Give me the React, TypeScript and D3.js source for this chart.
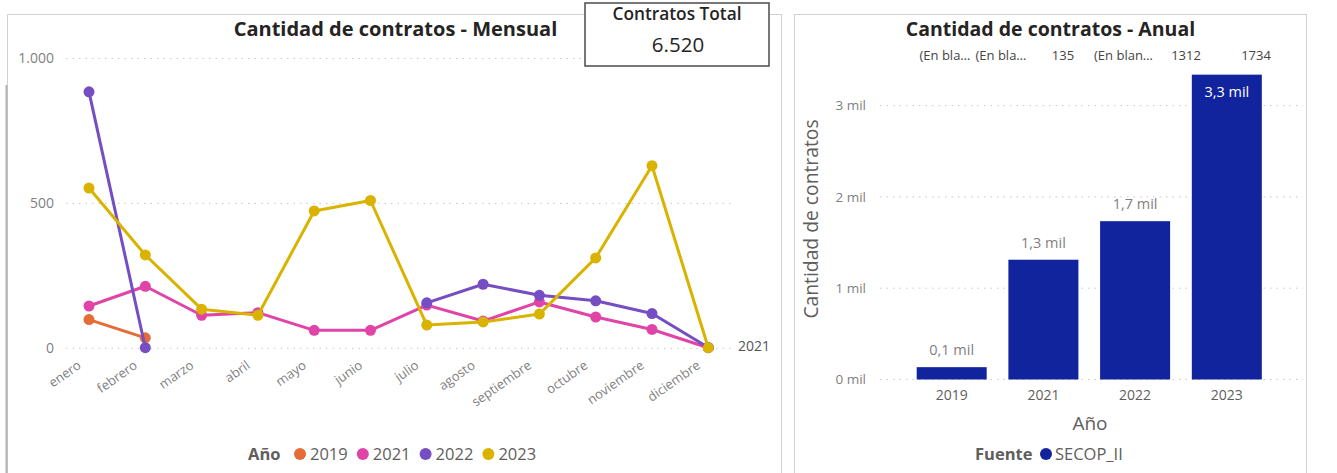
import React from "react";
import * as d3 from "d3";

const months = ["enero", "febrero", "marzo", "abril", "mayo", "junio", "julio", "agosto", "septiembre", "octubre", "noviembre", "diciembre"];
const years = ["2019", "2021", "2022", "2023"];
const s2019: (number | null)[] = [99, 36, null, null, null, null, null, null, null, null, null, null];
const s2021: (number | null)[] = [146, 214, 114, 123, 62, 62, 149, 94, 160, 108, 65, 2];
const s2022: (number | null)[] = [885, 2, null, null, null, null, 157, 221, 183, 164, 120, 3];
const s2023: (number | null)[] = [553, 322, 135, 114, 474, 510, 80, 91, 118, 312, 630, 2];
const lineTicks = [0, 500, 1000];

const barYears = ["2019", "2021", "2022", "2023"];
const barValues = [135, 1312, 1734, 3339];
const barTicks = [0, 1000, 2000, 3000];
const topLabels = ["(En bla…", "(En bla…", "135", "(En blan…", "1312", "1734"];
const totalContracts = 6520;

const colors = ["#E66C37", "#E044A7", "#744EC2", "#D9B300"];
const barColor = "#12239E";
const FONT = "'Open Sans', 'Noto Sans', sans-serif";

const loc = d3.formatLocale({ decimal: ",", thousands: ".", grouping: [3], currency: ["$", ""] });
const fmtInt = loc.format(",d");

export default function App() {
  const series = [s2019, s2021, s2022, s2023];
  // Left chart scales
  const x = d3.scalePoint<string>().domain(months).range([89, 708.3]);
  const y = d3.scaleLinear().domain([0, 1000]).range([348.3, 58.5]);
  const line = d3
    .line<number | null>()
    .defined((d) => d !== null)
    .x((_, i) => x(months[i]) as number)
    .y((d) => y(d as number));

  // Right chart scales
  const xb = d3.scaleBand<string>().domain(barYears).range([880, 1298.5]).paddingInner(0.2366).paddingOuter(0.4);
  const yb = d3.scaleLinear().domain([0, 3500]).range([379.5, 379.5 - 3.5 * 91.3]);
  const fmtMil = (v: number) => (v / 1000).toFixed(1).replace(".", ",") + " mil";

  const topLabelX = [945, 1001, 1063, 1123.5, 1186, 1256];

  return (
    <div style={{ position: "absolute", left: 0, top: 0 }}>
      <svg width={1337} height={473} style={{ display: "block", fontFamily: FONT }}>
        <rect x={0} y={0} width={1337} height={473} fill="#ffffff" />
        {/* Left panel */}
        <rect x={7.5} y={14.5} width={774} height={470} fill="none" stroke="#d2d2d2" />
        <line x1={6.5} x2={6.5} y1={85} y2={473} stroke="#b4b4b4" strokeWidth={2} />
        <text x={395.5} y={36} textAnchor="middle" fontSize={20} fontWeight={700} fill="#252423">
          Cantidad de contratos - Mensual
        </text>
        {lineTicks.map((t) => (
          <g key={t}>
            <line x1={66} x2={735} y1={y(t)} y2={y(t)} stroke="#c8c8c8" strokeDasharray="1.5 5" />
            <text x={54} y={y(t)} dy="0.35em" textAnchor="end" fontSize={14} fill="#7f7f7f">
              {fmtInt(t)}
            </text>
          </g>
        ))}
        {months.map((m) => (
          <text
            key={m}
            transform={`translate(${(x(m) as number) - 12.4},${359.7}) rotate(-35)`}
            textAnchor="end"
            dy="0.72em"
            fontSize={13}
            fill="#7f7f7f"
          >
            {m}
          </text>
        ))}
        {series.map((s, si) => (
          <g key={years[si]}>
            <path d={line(s) || ""} fill="none" stroke={colors[si]} strokeWidth={3} strokeLinejoin="round" />
            {s.map((v, i) =>
              v === null ? null : <circle key={i} cx={x(months[i]) as number} cy={y(v)} r={5.5} fill={colors[si]} />
            )}
          </g>
        ))}
        <text x={738} y={y(0) - 2} dy="0.35em" fontSize={14} fill="#555555">
          2021
        </text>
        {/* Left legend */}
        <text x={248} y={460} fontSize={16.5} fontWeight={700} fill="#605e5c">
          Año
        </text>
        {years.map((yr, i) => (
          <g key={yr}>
            <circle cx={300 + i * 62.8} cy={454} r={6} fill={colors[i]} />
            <text x={310 + i * 62.8} y={460} fontSize={16.5} fill="#605e5c">
              {yr}
            </text>
          </g>
        ))}

        {/* Card */}
        <rect x={585} y={3} width={184} height={63} fill="#ffffff" stroke="#555555" strokeWidth={1.6} />
        <text x={677} y={19.5} textAnchor="middle" fontSize={17.3} fontWeight={600} fill="#252423">
          Contratos Total
        </text>
        <text x={678} y={52} textAnchor="middle" fontSize={20.5} fill="#252423">
          {fmtInt(totalContracts)}
        </text>

        {/* Right panel */}
        <rect x={794.5} y={14.5} width={512} height={470} fill="none" stroke="#d2d2d2" />
        <text x={1050.5} y={36} textAnchor="middle" fontSize={19.5} fontWeight={700} fill="#252423">
          Cantidad de contratos - Anual
        </text>
        {topLabels.map((l, i) => (
          <text key={i} x={topLabelX[i]} y={55} dy="0.35em" textAnchor="middle" fontSize={13} fill="#444444">
            {l}
          </text>
        ))}
        {barTicks.map((t) => (
          <g key={t}>
            <line x1={880} x2={1303} y1={yb(t)} y2={yb(t)} stroke="#c8c8c8" strokeDasharray="1.5 5" />
            <text x={866} y={yb(t)} dy="0.35em" textAnchor="end" fontSize={13.5} fill="#7f7f7f">
              {t / 1000} mil
            </text>
          </g>
        ))}
        {barValues.map((v, i) => {
          const bx = xb(barYears[i]) as number;
          const inside = yb(v) < 100;
          return (
            <g key={barYears[i]}>
              <rect x={bx} y={yb(v)} width={xb.bandwidth()} height={yb(0) - yb(v)} fill={barColor} />
              <text
                x={bx + xb.bandwidth() / 2}
                y={inside ? yb(v) + 17 : yb(v) - 17}
                dy="0.35em"
                textAnchor="middle"
                fontSize={14.5}
                fill={inside ? "#ffffff" : "#7f7f7f"}
              >
                {fmtMil(v)}
              </text>
              <text x={bx + xb.bandwidth() / 2} y={395} dy="0.35em" textAnchor="middle" fontSize={14} fill="#605e5c">
                {barYears[i]}
              </text>
            </g>
          );
        })}
        <text x={1090} y={423} dy="0.35em" textAnchor="middle" fontSize={19} fill="#605e5c">
          Año
        </text>
        <text transform="translate(811,219) rotate(-90)" dy="0.35em" textAnchor="middle" fontSize={19.3} fill="#605e5c">
          Cantidad de contratos
        </text>
        <text x={975} y={460} fontSize={16.5} fontWeight={700} fill="#605e5c">
          Fuente
        </text>
        <circle cx={1046} cy={454} r={6} fill={barColor} />
        <text x={1055} y={460} fontSize={16.5} fill="#605e5c">
          SECOP_II
        </text>
      </svg>
    </div>
  );
}
